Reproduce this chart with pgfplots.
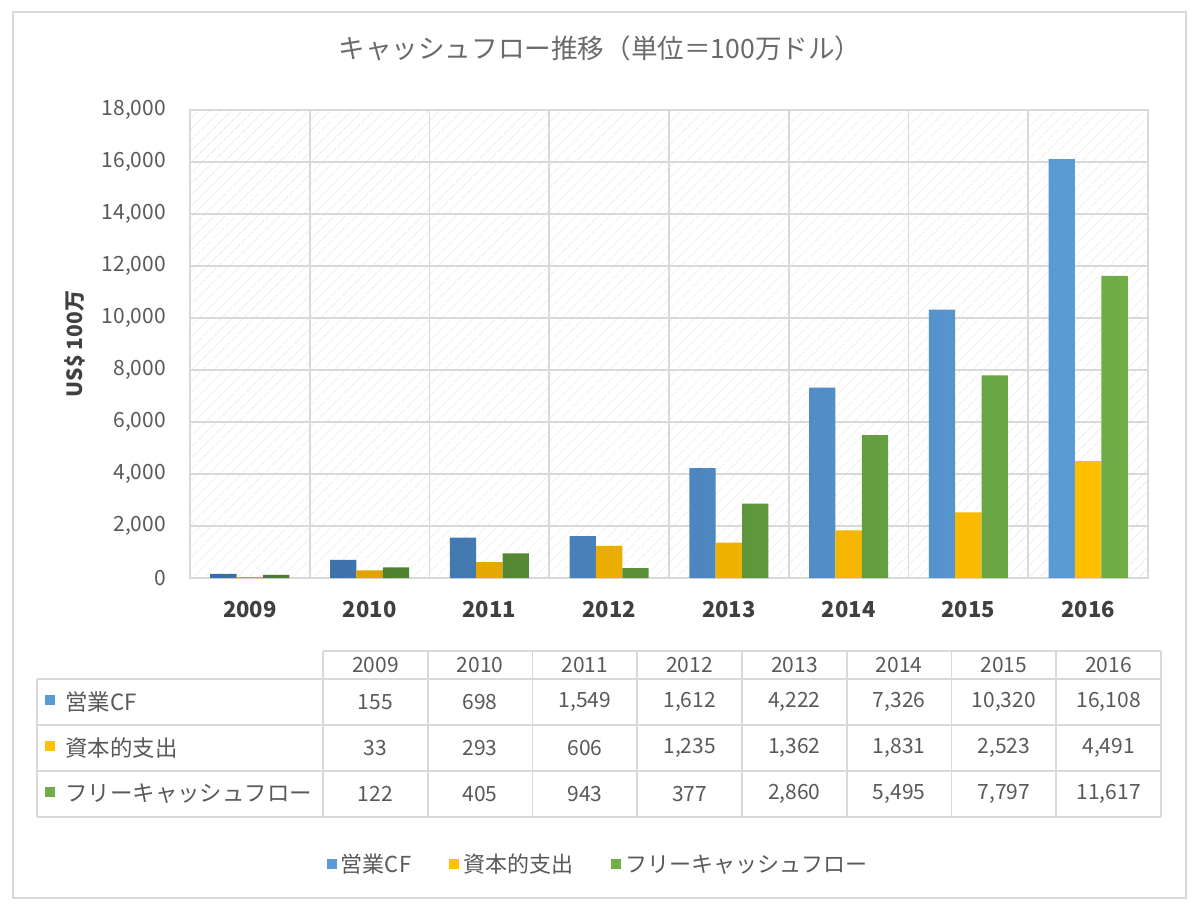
\documentclass[border=0pt]{standalone}
\usepackage{pgfplots}
\pgfplotsset{compat=1.18}
\usepackage{pgfplotstable}
\usetikzlibrary{patterns.meta}
\usepackage{fontspec}
\setmainfont{Noto Sans CJK JP}

\definecolor{txt}{HTML}{595959}
\definecolor{ttl}{HTML}{6A6A6A}
\definecolor{txtd}{HTML}{404040}
\definecolor{gridc}{HTML}{D9D9D9}
\definecolor{blueC}{HTML}{5B9BD5}
\definecolor{blueD}{HTML}{3A6BA3}
\definecolor{blueL}{HTML}{70AEEA}
\definecolor{yelC}{HTML}{FFC000}
\definecolor{yelD}{HTML}{D99E00}
\definecolor{yelL}{HTML}{FFD530}
\definecolor{grnC}{HTML}{70AD47}
\definecolor{grnD}{HTML}{4A7A2D}
\definecolor{grnL}{HTML}{84C355}

\pgfkeys{/pgf/number format/.cd, fixed, precision=0, 1000 sep={,}, assume math mode=true}

\pgfplotstableread{
x year ocf capex fcf
0 2009 155 33 122
1 2010 698 293 405
2 2011 1549 606 943
3 2012 1612 1235 377
4 2013 4222 1362 2860
5 2014 7326 1831 5495
6 2015 10320 2523 7797
7 2016 16108 4491 11617
}\cfdata

\newcommand{\legsq}[1]{\pgfsetfillcolor{#1}\pgfpathrectangle{\pgfpoint{0pt}{-2pt}}{\pgfpoint{5pt}{5pt}}\pgfusepath{fill}}

\begin{document}
\begin{tikzpicture}
\path[use as bounding box, fill=white] (0,0) rectangle (600pt,456pt);
\draw[gridc, line width=0.8pt] (6.5pt,7pt) rectangle (593pt,450pt);
\node[text=ttl, font=\fontsize{13.3}{16}\selectfont] at (300pt,432pt) {キャッシュフロー推移（単位＝100万ドル）};

\begin{axis}[
  at={(95pt,167pt)}, anchor=south west,
  scale only axis, width=479pt, height=234pt,
  xmin=-0.5, xmax=7.5, ymin=0, ymax=18000,
  ybar=0pt, bar width=0.22,
  xtick={0,...,7},
  xticklabels={2009,2010,2011,2012,2013,2014,2015,2016},
  minor xtick={-0.5,0.5,...,7.5},
  ytick={0,2000,...,18000},
  scaled y ticks=false,
  /pgf/number format/fixed, /pgf/number format/precision=0,
  /pgf/number format/1000 sep={,}, /pgf/number format/assume math mode=true,
  ymajorgrids, xminorgrids,
  major grid style={gridc, line width=0.8pt},
  minor grid style={gridc, line width=0.8pt},
  axis line style={gridc, line width=0.8pt},
  major tick length=0pt, minor tick length=0pt,
  tick style={draw=none},
  axis background/.style={pattern={Lines[angle=45,distance=4pt,line width=0.35pt]}, pattern color=black!9},
  yticklabel style={text=txt, font=\fontsize{10.5}{12}\selectfont, xshift=-8.5pt},
  xticklabel style={text=txtd, font=\fontsize{11}{13}\selectfont\bfseries, yshift=-8pt},
  ylabel={US\$ 100万},
  every axis y label/.style={at={(axis description cs:-0.12,0.5)}, rotate=90, anchor=center, font=\fontsize{10.5}{12}\selectfont\bfseries, text=txtd},
  legend style={at={(0.427,-0.613)}, anchor=center, draw=none, fill=none,
    font=\fontsize{11}{13}\selectfont, text=txt,
    /tikz/every even column/.append style={column sep=17pt}},
  legend columns=3,
]
\addplot[draw=none, left color=blueD, middle color=blueL, right color=blueC,
  legend image code/.code={\legsq{blueC}}]
  table[x=x, y=ocf] {\cfdata};
\addplot[draw=none, left color=yelD, middle color=yelL, right color=yelC,
  legend image code/.code={\legsq{yelC}}]
  table[x=x, y=capex] {\cfdata};
\addplot[draw=none, left color=grnD, middle color=grnL, right color=grnC,
  legend image code/.code={\legsq{grnC}}]
  table[x=x, y=fcf] {\cfdata};
\legend{営業CF,資本的支出,フリーキャッシュフロー}
\end{axis}

% data table below the chart
\begin{scope}[gridc, line width=0.8pt]
\draw (161.5pt,130.5pt) -- (580.5pt,130.5pt);
\foreach \y in {116.5,93.5,70.5,47.5} {\draw (18.5pt,\y pt) -- (580.5pt,\y pt);}
\draw (18.5pt,116.5pt) -- (18.5pt,47.5pt);
\foreach \i in {0,...,8} {\pgfmathsetmacro\xx{161.5+\i*52.375}\draw (\xx pt,130.5pt) -- (\xx pt,47.5pt);}
\end{scope}
\fill[blueC] (22.5pt,103.5pt) rectangle (27.5pt,108.5pt);
\fill[yelC] (22.5pt,80.5pt) rectangle (27.5pt,85.5pt);
\fill[grnC] (22.5pt,57.5pt) rectangle (27.5pt,62.5pt);
\begin{scope}[every node/.style={text=txt, font=\fontsize{11.2}{13}\selectfont, inner sep=0pt}]
\node[anchor=west] at (32.5pt,105pt) {営業CF};
\node[anchor=west] at (32.5pt,82pt) {資本的支出};
\node[anchor=west] at (32.5pt,59pt) {フリーキャッシュフロー};
\end{scope}
\begin{scope}[every node/.style={text=txt, font=\fontsize{10.5}{12}\selectfont, inner sep=0pt}]
\foreach \i in {0,...,7} {
  \pgfmathsetmacro\cx{161.5+(\i+0.5)*52.375}
  \pgfplotstablegetelem{\i}{year}\of\cfdata
  \node at (\cx pt,123.5pt) {\pgfplotsretval};
  \pgfplotstablegetelem{\i}{ocf}\of\cfdata
  \node at (\cx pt,105pt) {\pgfmathprintnumber{\pgfplotsretval}};
  \pgfplotstablegetelem{\i}{capex}\of\cfdata
  \node at (\cx pt,82pt) {\pgfmathprintnumber{\pgfplotsretval}};
  \pgfplotstablegetelem{\i}{fcf}\of\cfdata
  \node at (\cx pt,59pt) {\pgfmathprintnumber{\pgfplotsretval}};
}
\end{scope}
\end{tikzpicture}
\end{document}
